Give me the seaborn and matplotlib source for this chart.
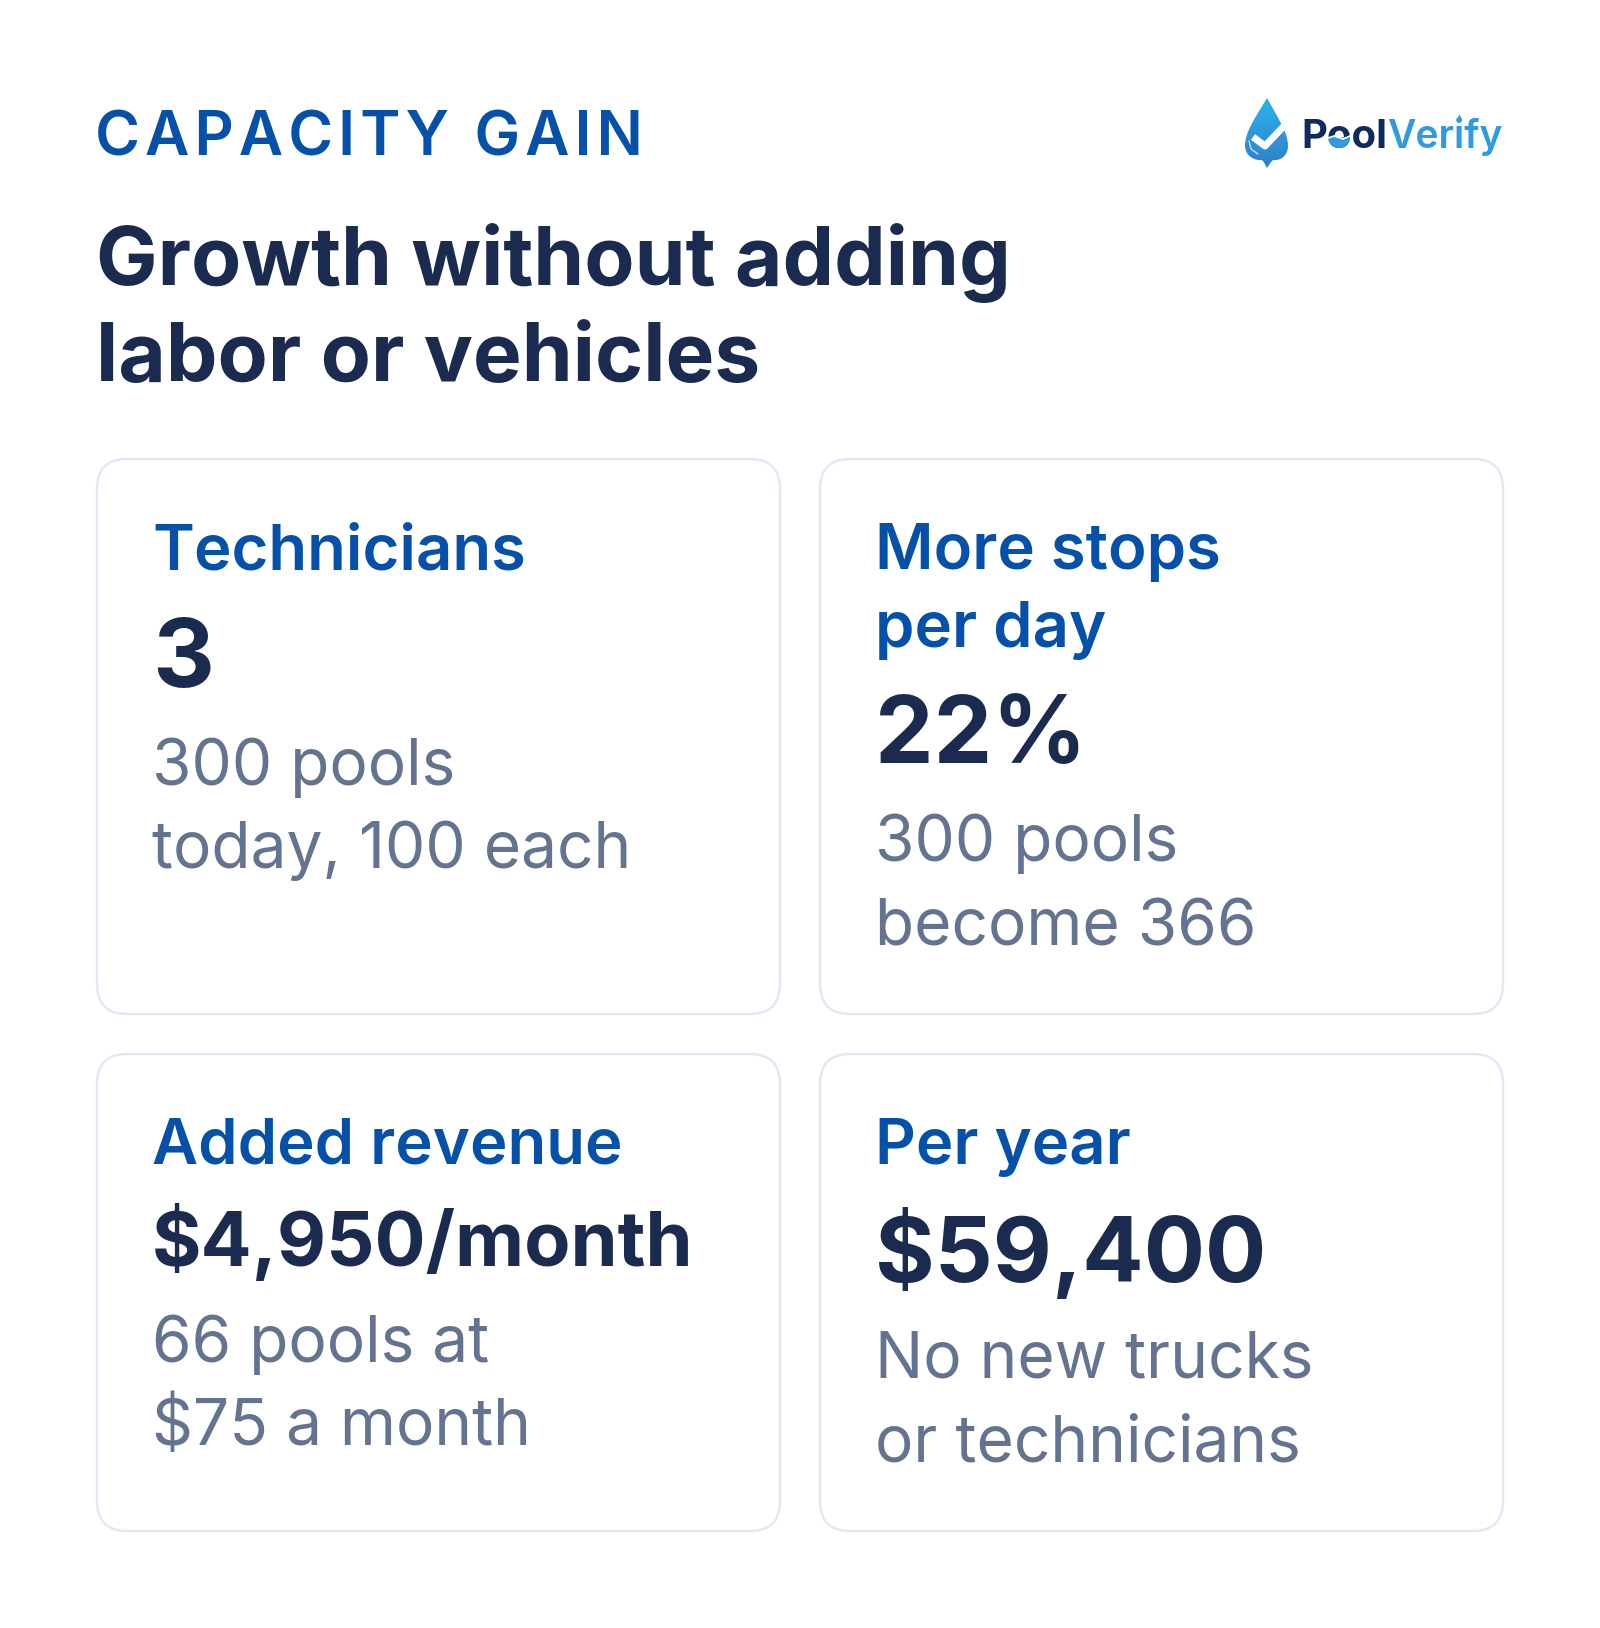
import seaborn as sns
import numpy as np
import matplotlib.pyplot as plt
from matplotlib.patches import FancyBboxPatch, PathPatch, Wedge
from matplotlib.path import Path

eyebrow = "CAPACITY GAIN"
title_lines = ["Growth without adding", "labor or vehicles"]
logo_dark = "Pool"
logo_light = "Verify"

card_labels = [["Technicians"], ["More stops", "per day"], ["Added revenue"], ["Per year"]]
card_values = ["3", "22%", "$4,950/month", "$59,400"]
card_notes = [["300 pools", "today, 100 each"], ["300 pools", "become 366"],
              ["66 pools at", "$75 a month"], ["No new trucks", "or technicians"]]

# px boxes of the cards: left, top, right, bottom
card_boxes = [(97, 459, 780, 1014), (820, 459, 1503, 1014),
              (97, 1054, 780, 1531), (820, 1054, 1503, 1531)]
label_base = [[569], [569, 647], [1164], [1164]]
value_base = [687, 763, 1266, 1282]
value_size = [96, 93, 75.7, 91]
note_base = [[785, 868], [861, 946], [1362, 1445], [1378, 1461]]

BLUE = "#0550A8"
NAVY = "#1B2B50"
GREY = "#64738F"
EDGE = "#E3E8F4"
FONT = "Inter"


def px(size):
    return size * 0.72


sns.set_theme(style="white", rc={"figure.facecolor": "white"})
plt.rcParams["font.family"] = [FONT, "DejaVu Sans"]

fig = plt.figure(figsize=(16, 16.28), dpi=100)
ax = fig.add_axes([0, 0, 1, 1])
ax.set_xlim(0, 1600)
ax.set_ylim(1628, 0)
ax.axis("off")

# header
ax.text(95, 156, "\u200a".join(eyebrow), fontsize=px(61), fontweight="semibold", color=BLUE, va="baseline")
for line, y in zip(title_lines, [285, 381]):
    ax.text(96, y, line, fontsize=px(82), fontweight="bold", color=NAVY, va="baseline")

# logo, drop with a vertical gradient
verts = [(1267, 98), (1255, 118), (1245, 132), (1245, 146), (1245, 156), (1255, 161), (1262, 160),
         (1265, 163), (1266, 167), (1267, 168), (1268, 167), (1270, 163), (1273, 160),
         (1280, 161), (1288, 156), (1288, 146), (1288, 132), (1278, 118), (1267, 98), (1267, 98)]
codes = [Path.MOVETO] + [Path.CURVE4] * 18 + [Path.CLOSEPOLY]
drop = PathPatch(Path(verts, codes), facecolor="none", edgecolor="none")
ax.add_patch(drop)
grad = np.linspace(0, 1, 64).reshape(-1, 1)
cmap = sns.blend_palette(["#2AB4EC", "#2F7FC8"], as_cmap=True)
im = ax.imshow(grad, extent=(1245, 1288, 168, 98), cmap=cmap, aspect="auto", zorder=2)
im.set_clip_path(drop)
ax.set_xlim(0, 1600)
ax.set_ylim(1628, 0)
ax.plot([1253, 1265, 1285], [137, 146, 125], color="white", lw=5, solid_capstyle="butt", zorder=3)
ax.plot([1249, 1251, 1258], [141, 149, 154], color="white", lw=1, alpha=0.7, zorder=3)
ax.text(1301, 148, logo_dark, fontsize=px(40), fontweight="bold", color="#0F2A5C", va="baseline")
ax.text(1387, 148, logo_light, fontsize=px(39), fontweight="semibold", color="#2E9BE0", va="baseline")
# wave in the first o and the drop over the i
ax.add_patch(Wedge((1339, 137), 11, 0, 180, facecolor="#2E9BE0", edgecolor="none", zorder=4))
ax.plot([1328, 1334, 1343, 1350], [138, 136, 139, 136], color="white", lw=1.2, zorder=5)
ax.plot([1459], [117], marker="^", ms=5, color="#2E9BE0", mec="none", zorder=4)

# cards
for i, (x0, y0, x1, y1) in enumerate(card_boxes):
    ax.add_patch(FancyBboxPatch((x0 + 30, y0 + 30), x1 - x0 - 60, y1 - y0 - 60,
                                boxstyle="round,pad=30,rounding_size=30",
                                facecolor="white", edgecolor=EDGE, lw=1.8))
    tx = x0 + 55
    for line, y in zip(card_labels[i], label_base[i]):
        ax.text(tx, y, line, fontsize=px(63.4), fontweight="semibold", color=BLUE, va="baseline")
    ax.text(tx, value_base[i], card_values[i], fontsize=px(value_size[i]), fontweight="bold",
            color=NAVY, va="baseline")
    for line, y in zip(card_notes[i], note_base[i]):
        ax.text(tx, y, line, fontsize=px(64), color=GREY, va="baseline")

fig.savefig("out.png", dpi=100, facecolor="white")
